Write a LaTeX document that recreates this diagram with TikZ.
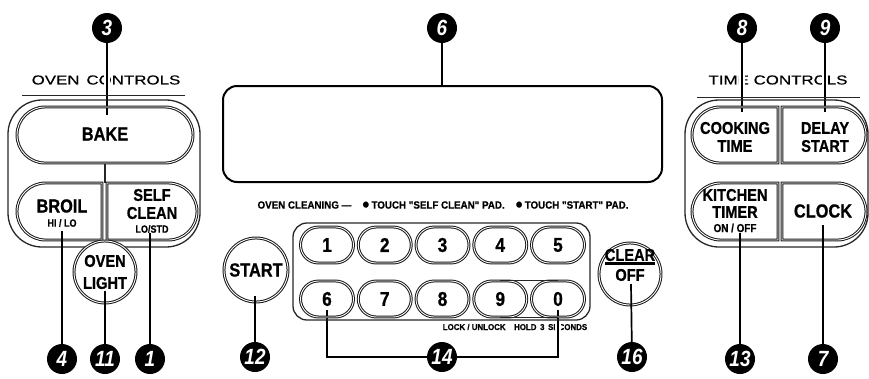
\documentclass[tikz,border=0pt]{standalone}
\usepackage{fontspec}
\setmainfont{Liberation Sans}
\newfontfamily\cond[FakeStretch=0.86, BoldFeatures={FakeBold=0.8}]{Liberation Sans}
\newfontfamily\semi[FakeStretch=0.93, BoldFeatures={FakeBold=0.6}]{Liberation Sans}
\newfontfamily\wide[FakeStretch=1.3, FakeBold=0.4]{Liberation Sans}
\usetikzlibrary{shapes.misc}
\begin{document}
\begin{tikzpicture}[x=1pt,y=-1pt,
  padline/.style={draw=black!90, line width=1pt, double=white, double distance=0.9pt},
  pad/.style={padline, rounded rectangle, minimum height=56pt, inner sep=0pt},
  padW/.style={pad, rounded rectangle east arc=none},
  padE/.style={pad, rounded rectangle west arc=none},
  keypad/.style={padline, rounded rectangle, minimum width=53pt, minimum height=36pt, inner sep=0pt,
    font=\cond\bfseries\fontsize{20}{20}\selectfont},
  btn/.style={padline, circle, fill=white, inner sep=0pt},
  group/.style={draw=black!85, line width=1.3pt, rounded corners=34pt, inner sep=0pt},
  lab/.style={inner sep=0pt, font=\cond\bfseries\fontsize{17}{18}\selectfont},
  biglab/.style={inner sep=0pt, font=\cond\bfseries\fontsize{19}{20}\selectfont},
  small/.style={inner sep=0pt, font=\cond\bfseries\fontsize{10.5}{11}\selectfont},
  hdr/.style={inner sep=0pt, font=\wide\fontsize{13}{14}\selectfont},
  leader/.style={line width=1.7pt, black},
  halo/.style={preaction={draw=white, line width=6pt}},
  callout/.style={circle, fill=black, minimum size=30pt, inner sep=0pt, text=white,
    font=\cond\bfseries\itshape\fontsize{22}{22}\selectfont}
]
\useasboundingbox (0,0) rectangle (869,378);

% callout positions
\path (107,28) coordinate (p3) (442,28) coordinate (p6) (742,28) coordinate (p8) (825,28) coordinate (p9)
      (62,359) coordinate (p4) (105,359) coordinate (p11) (150,359) coordinate (p1)
      (255,357) coordinate (p12) (442,357) coordinate (p14) (632,357) coordinate (p16)
      (740,359) coordinate (p13) (823,359) coordinate (p7);

% headers and small texts
\node[hdr] (ovenhdr) at (106,80) {OVEN\, CONTROLS};
\node[hdr] (timehdr) at (778,80) {TIME CONTROLS};
\node[inner sep=0pt, font=\semi\bfseries\fontsize{10.5}{12}\selectfont] (cleaning) at (443,205)
  {OVEN CLEANING —\quad {\fontsize{14}{12}\selectfont●}\,TOUCH "SELF CLEAN" PAD.\quad {\fontsize{14}{12}\selectfont●}\,TOUCH "START" PAD.};
\node[inner sep=0pt, font=\semi\bfseries\fontsize{8.5}{9}\selectfont] (lock) at (515,327)
  {LOCK / UNLOCK\quad HOLD\, 3\, SECONDS};

% end points of leaders
\coordinate (e3) at (107,115);
\coordinate (e8) at (742,112);
\coordinate (e9) at (825,112);
\coordinate (e6k) at (327,310);
\coordinate (e0k) at (558,310);

% leaders that cross text (white halo)
\draw[leader, halo] (p3) -- (e3);
\draw[leader, halo] (p8) -- (e8);
\draw[leader, halo] (p9) -- (e9);
\draw[leader, halo] (e6k) |- (p14) -| (e0k);

% header underlines
\draw[line width=0.8pt, black!85] (22,95) -- (185,95);
\draw[line width=0.8pt, black!85] (697,97) -- (860,97);

% group boxes
\node[group, minimum width=192pt, minimum height=147pt] (ovenbox) at (104,173.5) {};
\node[group, minimum width=183pt, minimum height=147pt] (timebox) at (776.5,173.5) {};

% oven pads
\node[pad, minimum width=176pt] (bake) at (105,135) {};
\node[padW, minimum width=85pt, minimum height=57pt] (broil) at (59.5,211.5) {};
\node[padE, minimum width=90pt, minimum height=57pt] (selfclean) at (152,211.5) {};
\draw[line width=1.2pt, black!85] (bake.south) -- (bake.south |- broil.north);
\node[btn, minimum size=62pt] (light) at (105,272) {};

% display
\node[draw, line width=2pt, rounded corners=14pt, minimum width=439pt, minimum height=96pt, inner sep=0pt]
  (display) at (442.5,134) {};

% keypad
\node[draw=black!85, line width=1.3pt, rounded corners=14pt, minimum width=297pt, minimum height=97pt, inner sep=0pt]
  (keybox) at (441.5,271.5) {};
\foreach \d/\x in {1/327,2/384.75,3/442.5,4/500.25,5/558}
  \node[keypad] (k\d) at (\x,245) {\d};
\foreach \d/\x in {6/327,7/384.75,8/442.5,9/500.25,0/558}
  \node[keypad] (k\d) at (\x,299) {\d};
\draw[line width=1.3pt, black!85] (k9.north) -- (k0.north);
\draw[line width=1.3pt, black!85] (k9.south) -- (k0.south);

% start and clear
\node[btn, minimum size=64pt, font=\cond\bfseries\fontsize{19}{20}\selectfont] (start) at (256,270) {START};
\node[btn, minimum size=62pt] (clear) at (630,274) {};

% time pads
\node[padW, minimum width=86pt] (cook) at (735,135) {};
\node[padE, minimum width=84pt] (delay) at (824,135) {};
\node[padW, minimum width=86pt, minimum height=57pt] (timer) at (735,211.5) {};
\node[padE, minimum width=84pt, minimum height=57pt] (clock) at (824,211.5) {};

% labels
\node[biglab] (tbake) at (105,134) {BAKE};
\node[biglab] (tbroil) at (62,206) {BROIL};
\node[small] (thilo) at (62,223) {HI / LO};
\node[lab] (tself) at (152,195) {SELF};
\node[lab] (tclean) at (152,213) {CLEAN};
\node[small] (tlostd) at (152,229) {LO/STD};
\node[lab] (toven) at (105,261) {OVEN};
\node[lab] (tlight) at (105,283) {LIGHT};
\node[lab] (tclr) at (630,255) {CLEAR};
\draw[line width=2.4pt] (605,263.5) -- (655,263.5);
\node[lab] (toff) at (630,275) {OFF};
\node[lab] (tcook) at (735,128) {COOKING};
\node[lab] (ttime) at (735,146) {TIME};
\node[lab] (tdelay) at (825,128) {DELAY};
\node[lab] (tstart) at (825,146) {START};
\node[lab] (tkitchen) at (735,195) {KITCHEN};
\node[lab] (ttimer) at (735,212) {TIMER};
\node[inner sep=0pt, font=\cond\bfseries\fontsize{11.5}{12}\selectfont] (tonoff) at (735,228) {ON / OFF};
\node[biglab] (tclock) at (823,211) {CLOCK};

% other leaders
\coordinate (e4) at (62,231);
\coordinate (e1) at (150,233);
\coordinate (e11) at (105,291);
\coordinate (e12) at (255,296);
\coordinate (e16) at (631,284);
\coordinate (e13) at (740,233);
\coordinate (e7) at (823,225);
\draw[leader] (p6) -- (p6 |- display.north);
\draw[leader] (e4) -- (p4);
\draw[leader] (e1) -- (p1);
\draw[leader] (e11) -- (p11);
\draw[leader] (e12) -- (p12);
\draw[leader] (e16) -- (p16);
\draw[leader] (e13) -- (p13);
\draw[leader] (e7) -- (p7);

% callout discs
\node[callout] (n3) at (p3) {3};
\node[callout] (n6) at (p6) {6};
\node[callout] (n8) at (p8) {8};
\node[callout] (n9) at (p9) {9};
\node[callout] (n4) at (p4) {4};
\node[callout] (n11) at (p11) {11};
\node[callout] (n1) at (p1) {1};
\node[callout] (n12) at (p12) {12};
\node[callout] (n14) at (p14) {14};
\node[callout] (n16) at (p16) {16};
\node[callout] (n13) at (p13) {13};
\node[callout] (n7) at (p7) {7};
\end{tikzpicture}
\end{document}
